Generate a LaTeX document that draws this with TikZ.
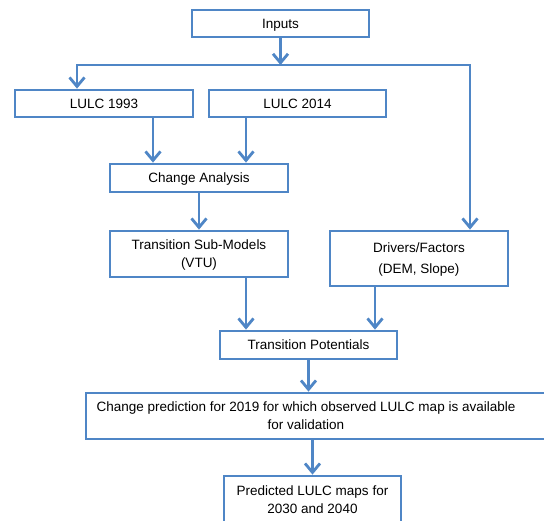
\documentclass[tikz,border=0pt]{standalone}
\usepackage{xcolor}
\usepackage{fontspec}
\setmainfont{Liberation Sans}
\usepackage{tikz}
\usetikzlibrary{arrows.meta}
\definecolor{boxblue}{HTML}{4F86C6}
\tikzset{
  block/.style={draw=boxblue,line width=2.8pt,fill=white,align=center,
    minimum width=177pt,inner sep=2pt,text depth=0pt,text height=9.7pt,
    font=\fontsize{13.5}{18}\selectfont},
  twolines/.style={text height=27.7pt},
  arr/.style={draw=boxblue,line width=2.8pt,-{Straight Barb[length=9pt,width=15pt]}}
}
\begin{document}
\begin{tikzpicture}[x=1pt,y=-1pt,line join=miter]
	\clip (0,0) rectangle (544,520);
	\fill[white] (0,0) rectangle (544,520);
	\node [block,minimum height=27pt] (inputs) at (280.5,23.5) {Inputs};
	\node [block,minimum width=178pt,minimum height=27pt] (lulc1) at (104,103.5) {LULC 1993};
	\node [block,minimum height=27pt] (lulc2) at (297.5,103.5) {LULC 2014};
	\node [block,minimum width=178pt,minimum height=28pt] (change) at (199,178) {Change Analysis};
	\node [block,twolines,minimum width=178pt,minimum height=46pt] (submodels) at (199,254) {Transition Sub-Models\\(VTU)};
	\node [block,text height=30.7pt,minimum width=178pt,minimum height=55pt] (drivers) at (419,258.5) {Drivers/Factors\\[3pt](DEM, Slope)};
	\node [block,minimum height=28pt] (potentials) at (308.5,345) {Transition Potentials};
	\node [block,twolines,minimum width=462pt,minimum height=46pt] (prediction) at (317,416)
	  {\parbox[b]{420pt}{\centering Change prediction for 2019 for which observed LULC map is available\\for validation}\hspace{22pt}};
	\node [block,twolines,minimum height=48pt] (maps) at (312.5,500) {Predicted LULC maps for\\2030 and 2040};
	\coordinate (split) at (281,65);
	\coordinate (left) at (77,65);
	\coordinate (right) at (470,65);

	\draw [arr] (inputs) -- (inputs.south |- split);
	\draw [arr,{Straight Barb[length=9pt,width=15pt]}-{Straight Barb[length=9pt,width=15pt]}]
	  (left |- lulc1.north) -- (left) -- (right) -- (right |- drivers.north);
	\draw [arr] ([xshift=49pt]lulc1.south) -- ([xshift=49pt]lulc1.south |- change.north);
	\draw [arr] ([xshift=-51.5pt]lulc2.south) -- ([xshift=-51.5pt]lulc2.south |- change.north);
	\draw [arr] (change) -- (submodels);
	\draw [arr] ([xshift=47pt]submodels.south) -- ([xshift=47pt]submodels.south |- potentials.north);
	\draw [arr] ([xshift=-44pt]drivers.south) -- ([xshift=-44pt]drivers.south |- potentials.north);
	\draw [arr] (potentials) -- (potentials |- prediction.north);
	\draw [arr] (maps.north |- prediction.south) -- (maps);
\end{tikzpicture}
\end{document}
